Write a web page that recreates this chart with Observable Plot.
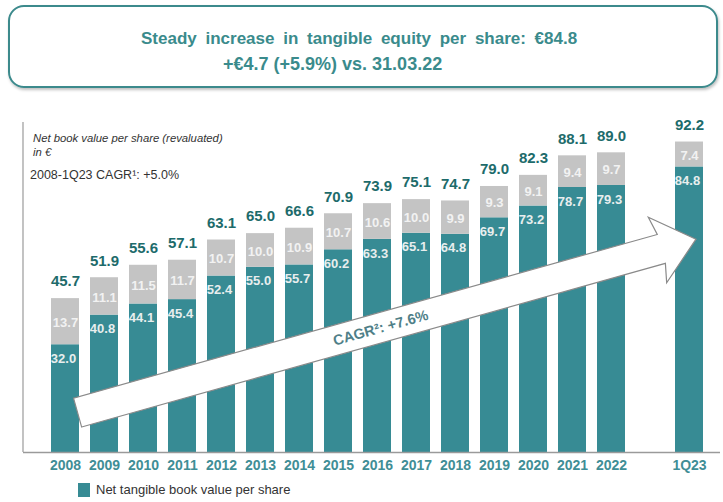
<!DOCTYPE html>
<html><head><meta charset="utf-8">
<script src="https://cdn.jsdelivr.net/npm/d3@7"></script>
<script src="https://cdn.jsdelivr.net/npm/@observablehq/plot@0.6"></script>
<style>
body{margin:0;background:#fff;font-family:"Liberation Sans",Arial,sans-serif;}
#wrap{position:relative;width:723px;height:502px;overflow:hidden;background:#fff;}
#titlebox{position:absolute;left:8px;top:5px;width:706px;height:79px;border:2px solid #3c8a8c;border-radius:16px;box-shadow:1px 2px 3px rgba(0,0,0,0.25);}
.tl{position:absolute;white-space:nowrap;font-weight:bold;font-size:18px;line-height:20px;color:#3a8b8c;}
#chart{position:absolute;left:0;top:100px;}
.ann{position:absolute;color:#333;white-space:nowrap;}
#legend{position:absolute;left:78px;top:482px;display:flex;align-items:center;font-size:13px;color:#333;}
#legend .sw{width:12px;height:14px;background:#378b94;margin-right:6px;}
</style></head>
<body>
<div id="wrap">
  <div id="titlebox"></div>
  <div class="tl" style="left:141px;top:29px;font-size:17px;word-spacing:4px;">Steady increase in tangible equity per share: €84.8</div>
  <div class="tl" style="left:223px;top:53.5px;">+€4.7 (+5.9%) vs. 31.03.22</div>
  <div id="chart"></div>
  <div class="ann" style="left:33px;top:131px;font-size:11.3px;line-height:14px;font-style:italic;">Net book value per share (revaluated)</div>
  <div class="ann" style="left:33px;top:145px;font-size:11.3px;line-height:14px;font-style:italic;">in €</div>
  <div class="ann" style="left:30px;top:168px;font-size:12.5px;line-height:14px;">2008-1Q23 CAGR¹: +5.0%</div>
  <div id="legend"><div class="sw"></div><span>Net tangible book value per share</span></div>
</div>
<script>
const periods = ["2008","2009","2010","2011","2012","2013","2014","2015","2016","2017","2018","2019","2020","2021","2022","1Q23"];
const netTangible = [32.0,40.8,44.1,45.4,52.4,55.0,55.7,60.2,63.3,65.1,64.8,69.7,73.2,78.7,79.3,84.8];
const otherBookValue = [13.7,11.1,11.5,11.7,10.7,10.0,10.9,10.7,10.6,10.0,9.9,9.3,9.1,9.4,9.7,7.4];
const totals = [45.7,51.9,55.6,57.1,63.1,65.0,66.6,70.9,73.9,75.1,74.7,79.0,82.3,88.1,89.0,92.2];
const arrowLabel = "CAGR²: +7.6%";
const arrowFrom = {cat: "2008", value: 11.7};
const arrowTo = {cat: "1Q23", value: 63.2};

const TEAL = "#378b94", GRAY = "#c4c4c4", DARK = "#1d6b6b", YEARC = "#3f8e96";
const rows = periods.map((c, i) => ({cat: c, net: netTangible[i], other: otherBookValue[i], total: totals[i]}));
const domain = [...periods.slice(0, 15), "", "1Q23"];

function arrowMark(index, scales, values, dim) {
  const x = scales.x, y = scales.y;
  const bw = x.bandwidth ? x.bandwidth() : 29;
  const g = d3.create("svg:g");
  g.append("line").attr("x1", dim.marginLeft).attr("x2", dim.marginLeft)
    .attr("y1", dim.marginTop).attr("y2", dim.height - dim.marginBottom)
    .attr("stroke", "#9a9a9a").attr("stroke-width", 1.2);
  const x0 = x(arrowFrom.cat) + bw * 0.95, y0 = y(arrowFrom.value);
  const x1 = x(arrowTo.cat) + bw * 0.75, y1 = y(arrowTo.value);
  const L = Math.hypot(x1 - x0, y1 - y0);
  const ux = (x1 - x0) / L, uy = (y1 - y0) / L;
  const nx = -uy, ny = ux;
  const bh = 15, hh = 34, hl = 36;
  const bx = x1 - ux * hl, by = y1 - uy * hl;
  const pts = [
    [x0 + nx * bh, y0 + ny * bh],
    [bx + nx * bh, by + ny * bh],
    [bx - ux * 4 + nx * hh, by - uy * 4 + ny * hh],
    [x1, y1],
    [bx - ux * 4 - nx * hh, by - uy * 4 - ny * hh],
    [bx - nx * bh, by - ny * bh],
    [x0 - nx * bh, y0 - ny * bh]
  ];
  g.append("path").attr("d", "M" + pts.map(p => p.join(",")).join("L") + "Z")
    .attr("fill", "#fff").attr("stroke", "#8a8a8a").attr("stroke-width", 1.2);
  const t = 0.49;
  const tx = x0 + (x1 - x0) * t, ty = y0 + (y1 - y0) * t;
  const ang = Math.atan2(y1 - y0, x1 - x0) * 180 / Math.PI;
  g.append("text").attr("transform", `translate(${tx},${ty}) rotate(${ang})`)
    .attr("text-anchor", "middle").attr("dominant-baseline", "central")
    .attr("font-size", 14.5).attr("font-weight", "bold").attr("fill", "#4f7f88")
    .attr("font-family", "Liberation Sans, Arial, sans-serif")
    .text(arrowLabel);
  return g.node();
}

const plot = Plot.plot({
  width: 723,
  height: 375,
  marginTop: 22,
  marginBottom: 23,
  marginLeft: 23,
  marginRight: 3,
  style: {fontFamily: "Liberation Sans, Arial, sans-serif", background: "transparent"},
  x: {domain, range: [32.7, 721.3], padding: 0.27, axis: null},
  y: {domain: [0, 98], axis: null},
  marks: [
    Plot.barY(rows, {x: "cat", y1: 0, y2: "net", fill: TEAL}),
    Plot.barY(rows, {x: "cat", y1: "net", y2: "total", fill: GRAY}),
    Plot.ruleY([0], {stroke: "#9a9a9a", strokeWidth: 1.5}),
    arrowMark,
    Plot.text(rows, {x: "cat", y: "total", text: d => d.total.toFixed(1), dy: -17, fill: DARK, fontWeight: "bold", fontSize: 15}),
    Plot.text(rows, {x: "cat", y: d => d.net + d.other / 2, text: d => d.other.toFixed(1), dy: 1, fill: "#f2f2f2", fontWeight: "bold", fontSize: 13}),
    Plot.text(rows, {x: "cat", y: "net", text: d => d.net.toFixed(1), dy: 14, dx: -2, fill: "#e8eeee", fontWeight: "bold", fontSize: 13}),
    Plot.text(rows, {x: "cat", y: 0, text: "cat", dy: 13, fill: YEARC, fontWeight: "bold", fontSize: 14})
  ]
});
document.getElementById("chart").appendChild(plot);
</script>
</body></html>
